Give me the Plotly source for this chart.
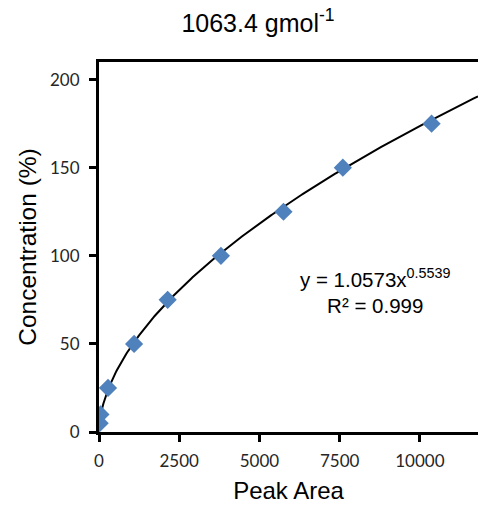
import numpy as np
import plotly.graph_objects as go

# Calibration points: peak area vs concentration
peak_area = [20, 45, 281, 1094, 2140, 3800, 5750, 7600, 10365]
concentration = [5, 10, 25, 50, 75, 100, 125, 150, 175]

# Power-law trendline coefficients (y = a * x^b)
coef_a = 1.0573
coef_b = 0.5539
r_squared = 0.999

x_ticks = [0, 2500, 5000, 7500, 10000]
y_ticks = [0, 50, 100, 150, 200]
x_max = 11812
y_max = 210

fit_x = np.linspace(min(peak_area), x_max, 400)
fit_y = coef_a * fit_x ** coef_b

fig = go.Figure()
fig.add_trace(go.Scatter(
    x=fit_x, y=fit_y, mode="lines",
    line=dict(color="black", width=2), hoverinfo="skip", showlegend=False,
))
fig.add_trace(go.Scatter(
    x=peak_area, y=concentration, mode="markers",
    marker=dict(symbol="diamond", size=14, color="#4F81BD", line=dict(width=0)),
    showlegend=False,
))

fig.add_annotation(
    x=8600, y=80, xref="x", yref="y",
    text=f"y = {coef_a}x<sup>{coef_b}</sup><br>R² = {r_squared}",
    showarrow=False, align="center", xanchor="center", yanchor="middle",
    font=dict(family="Liberation Sans, Arial", size=20.5, color="black"),
)

axis_common = dict(
    showgrid=False, zeroline=False, showline=True, linecolor="black", linewidth=3,
    ticks="outside", ticklen=7, tickwidth=2.5, tickcolor="black",
    tickfont=dict(family="Lato", size=17, color="#262626"),
)

fig.update_layout(
    width=478, height=511,
    margin=dict(l=99, r=0, t=62, b=79),
    paper_bgcolor="white", plot_bgcolor="white",
    title=dict(
        text="1063.4 gmol<sup>-1</sup>", x=258 / 478, xanchor="center",
        y=1 - 23 / 511, yanchor="middle",
        font=dict(family="Liberation Sans, Arial", size=25, color="black"),
    ),
    xaxis=dict(
        range=[0, x_max], tickvals=x_ticks, ticktext=[str(v) for v in x_ticks],
        mirror=True, ticklabelstandoff=5,
        title=dict(text="Peak Area", standoff=12,
                   font=dict(family="Liberation Sans, Arial", size=24, color="black")),
        **axis_common,
    ),
    yaxis=dict(
        range=[0, y_max], tickvals=y_ticks, ticktext=[str(v) for v in y_ticks],
        ticklabelstandoff=6,
        title=dict(text="Concentration (%)", standoff=7,
                   font=dict(family="Liberation Sans, Arial", size=24.5, color="black")),
        **axis_common,
    ),
)

fig.write_html("out.html")
